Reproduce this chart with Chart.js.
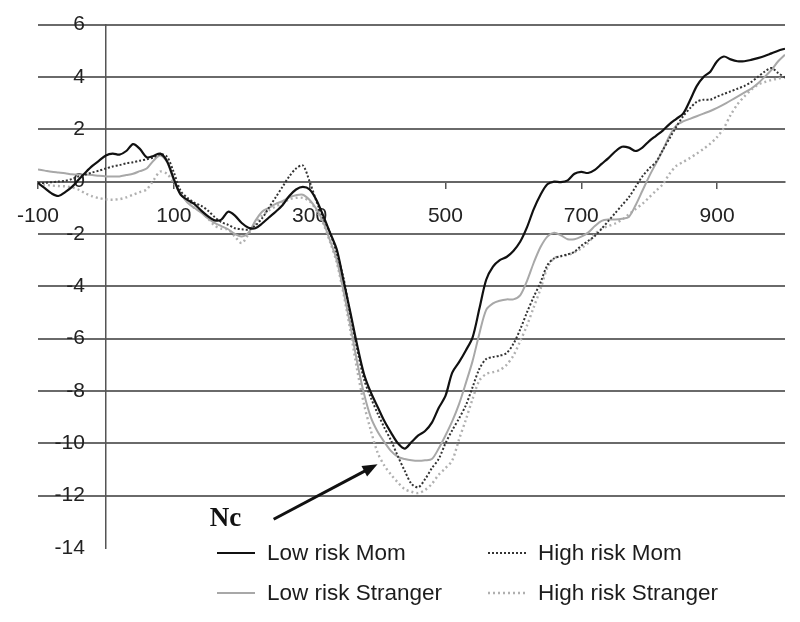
<!DOCTYPE html>
<html>
<head>
<meta charset="utf-8">
<script src="https://cdn.jsdelivr.net/npm/chart.js@4.4.1/dist/chart.umd.min.js"></script>
<style>
  html, body { margin: 0; padding: 0; background: #fff; }
</style>
</head>
<body>
<canvas id="erpChart" width="800" height="622"></canvas>
<script>
/* --------------- Time points (ms) --------------------- */
const times = [
  -100, -90, -80, -70, -60, -50, -40, -30, -20, -10,
  0, 10, 20, 30, 40, 50, 60, 70, 80, 90,
  100, 110, 120, 130, 140, 150, 160, 170, 180, 190,
  200, 210, 220, 230, 240, 250, 260, 270, 280, 290,
  300, 310, 320, 330, 340, 350, 360, 370, 380, 390,
  400, 410, 420, 430, 440, 450, 460, 470, 480, 490,
  500, 510, 520, 530, 540, 550, 560, 570, 580, 590,
  600, 610, 620, 630, 640, 650, 660, 670, 680, 690,
  700, 710, 720, 730, 740, 750, 760, 770, 780, 790,
  800, 810, 820, 830, 840, 850, 860, 870, 880, 890,
  900, 910, 920, 930, 940, 950, 960, 970, 980, 990,
  1000
];

/* --------------- Amplitudes (uV) --------------------- */
const lowMom = [
  -0.05, -0.25, -0.45, -0.55, -0.4, -0.2, 0.08, 0.35, 0.6, 0.8,
  1.0, 1.07, 1.03, 1.17, 1.43, 1.25, 0.93, 0.98, 1.07, 0.78,
  0.1, -0.5, -0.7, -0.85, -1.1, -1.32, -1.48, -1.45, -1.15, -1.3,
  -1.58, -1.76, -1.78, -1.6, -1.37, -1.15, -0.9, -0.55, -0.3, -0.2,
  -0.3, -0.7, -1.3, -1.95, -2.6, -3.8, -5.0, -6.25, -7.35, -8.05,
  -8.6, -9.15, -9.6, -10.0, -10.2, -9.95, -9.7, -9.53, -9.21, -8.65,
  -8.19, -7.3, -6.9, -6.45, -5.95, -4.85, -3.75, -3.25, -3.0, -2.88,
  -2.65, -2.3, -1.75, -1.05, -0.5, -0.1, 0.0, -0.02, 0.05, 0.3,
  0.37, 0.33, 0.45, 0.68, 0.9, 1.15, 1.33, 1.3, 1.17, 1.3,
  1.55, 1.75, 1.95, 2.2, 2.4, 2.6, 3.1, 3.65, 4.0, 4.2,
  4.6, 4.78, 4.67, 4.6, 4.6, 4.65, 4.72, 4.8, 4.9, 5.0,
  5.08
];
const highMom = [
  -0.05, -0.05, -0.02, 0.0, 0.03, 0.1, 0.2, 0.27, 0.35, 0.42,
  0.5, 0.58, 0.63, 0.7, 0.74, 0.8, 0.85, 0.92, 1.05, 0.95,
  0.35, -0.35, -0.62, -0.8, -0.92, -1.1, -1.35, -1.55, -1.65, -1.78,
  -1.82, -1.83, -1.68, -1.4, -1.0, -0.6, -0.2, 0.2, 0.5, 0.62,
  0.0, -0.75, -1.4, -1.95, -2.75, -3.7, -5.1, -6.4, -7.55, -8.25,
  -8.85, -9.4, -9.9, -10.5, -11.05, -11.55, -11.68, -11.37, -10.95, -10.6,
  -10.0, -9.5, -9.05, -8.55, -7.85, -7.15, -6.78, -6.7, -6.65, -6.55,
  -6.2, -5.65, -5.0, -4.4, -3.85, -3.2, -2.93, -2.85, -2.78, -2.68,
  -2.45, -2.27, -2.08, -1.8, -1.5, -1.2, -0.9, -0.6, -0.2, 0.2,
  0.5, 0.75, 1.2, 1.65, 2.1, 2.5, 2.8, 3.05, 3.13, 3.13,
  3.25, 3.35, 3.45, 3.55, 3.65, 3.8, 4.0, 4.2, 4.34, 4.15,
  3.98
];
const lowStranger = [
  0.46, 0.42, 0.38, 0.35, 0.32, 0.28, 0.27, 0.27, 0.25, 0.22,
  0.2, 0.2, 0.2, 0.25, 0.3, 0.4, 0.5, 0.8, 1.0, 0.75,
  0.05, -0.45, -0.8, -1.0, -1.18, -1.4, -1.58, -1.7, -1.82, -2.0,
  -2.1, -1.95, -1.5, -1.15, -1.0, -0.85, -0.75, -0.6, -0.52, -0.5,
  -0.7, -1.05, -1.55, -2.25, -3.0, -4.2, -5.5, -6.9, -8.1, -9.0,
  -9.55, -9.95, -10.3, -10.52, -10.6, -10.65, -10.67, -10.65, -10.6, -10.2,
  -9.7, -9.15, -8.5, -7.7, -6.85, -5.8, -4.9, -4.65, -4.55, -4.5,
  -4.5, -4.35, -3.8, -3.1, -2.5, -2.1, -1.95, -2.05, -2.2, -2.2,
  -2.1, -1.95, -1.7, -1.5, -1.45, -1.45, -1.42, -1.35, -0.9, -0.35,
  0.2, 0.7, 1.2, 1.75, 2.15, 2.3, 2.4, 2.5, 2.6, 2.7,
  2.82, 2.95, 3.1, 3.25, 3.4, 3.55, 3.75, 4.0, 4.27, 4.6,
  4.85
];
const highStranger = [
  -0.1, -0.12, -0.15, -0.17, -0.18, -0.22, -0.31, -0.45, -0.56, -0.63,
  -0.68, -0.69, -0.67, -0.6, -0.5, -0.4, -0.3, 0.05, 0.38, 0.3,
  -0.05, -0.45, -0.75, -1.0, -1.15, -1.4, -1.68, -1.8, -1.83, -2.1,
  -2.35, -2.0, -1.6, -1.3, -1.1, -0.95, -0.82, -0.68, -0.62, -0.62,
  -0.75, -1.1, -1.6, -2.3, -3.1, -4.3, -5.7, -7.2, -8.5, -9.5,
  -10.35, -10.85, -11.2, -11.5, -11.75, -11.85, -11.9, -11.78, -11.55, -11.2,
  -10.95, -10.65, -9.85, -9.1, -8.3, -7.6, -7.35, -7.28, -7.2, -7.0,
  -6.65, -6.1, -5.5, -4.8, -4.1, -3.3, -2.93, -2.85, -2.8, -2.7,
  -2.55, -2.35, -2.0, -1.8, -1.7, -1.6, -1.45, -1.25, -1.05, -0.85,
  -0.6, -0.35, -0.1, 0.3, 0.6, 0.75, 0.9, 1.07, 1.25, 1.45,
  1.7, 2.05, 2.55, 2.95, 3.25, 3.5, 3.7, 3.8, 3.88, 3.94,
  3.98
];

const seriesLabels = ["Low risk Mom", "High risk Mom", "Low risk Stranger", "High risk Stranger"];
const xTickValues = [-100, 100, 300, 500, 700, 900];

/* --------------- Nc annotation (data coords) --------------------- */
const ncText = "Nc";
const ncTextAt = [176, -12.9];
const ncArrowFrom = [247, -12.9];
const ncArrowTo = [400, -10.8];

const toPoints = (vals) => times.map((t, i) => ({ x: t, y: vals[i] }));

const tickFont = { family: "'Liberation Sans', Arial, sans-serif", size: 21 };

/* --------------- y labels sit left of the x=0 axis, not on it --------------------- */
const yLabelGap = {
  id: "yLabelGap",
  beforeDraw(chart) {
    chart.scales.y.getLabelItems().forEach((item) => {
      if (!item.moved) {
        item.options.translation[0] -= 21;
        item.moved = true;
      }
    });
  },
};

/* --------------- Nc arrow --------------------- */
const ncPlugin = {
  id: "ncArrow",
  afterDatasetsDraw(chart) {
    const { ctx, scales } = chart;
    const x0 = scales.x.getPixelForValue(ncArrowFrom[0]);
    const y0 = scales.y.getPixelForValue(ncArrowFrom[1]);
    const x1 = scales.x.getPixelForValue(ncArrowTo[0]);
    const y1 = scales.y.getPixelForValue(ncArrowTo[1]);
    const ang = Math.atan2(y1 - y0, x1 - x0);
    const head = 15;
    ctx.save();
    ctx.strokeStyle = "#111";
    ctx.fillStyle = "#111";
    ctx.lineWidth = 3;
    ctx.beginPath();
    ctx.moveTo(x0, y0);
    ctx.lineTo(x1 - Math.cos(ang) * head * 0.8, y1 - Math.sin(ang) * head * 0.8);
    ctx.stroke();
    ctx.beginPath();
    ctx.moveTo(x1, y1);
    ctx.lineTo(x1 - head * Math.cos(ang) + 6 * Math.sin(ang), y1 - head * Math.sin(ang) - 6 * Math.cos(ang));
    ctx.lineTo(x1 - head * Math.cos(ang) - 6 * Math.sin(ang), y1 - head * Math.sin(ang) + 6 * Math.cos(ang));
    ctx.closePath();
    ctx.fill();
    ctx.font = "bold 27px 'Liberation Serif', 'Times New Roman', serif";
    ctx.textAlign = "center";
    ctx.textBaseline = "middle";
    ctx.fillText(ncText, scales.x.getPixelForValue(ncTextAt[0]), scales.y.getPixelForValue(ncTextAt[1]));
    ctx.restore();
  },
};

/* --------------- 2x2 legend under the plot --------------------- */
const gridLegend = {
  id: "gridLegend",
  afterDraw(chart) {
    const { ctx } = chart;
    const cols = [217, 488];
    const rows = [553, 593];
    ctx.save();
    ctx.font = "22.5px 'Liberation Sans', Arial, sans-serif";
    ctx.fillStyle = "#1c1c1c";
    ctx.textBaseline = "middle";
    chart.data.datasets.forEach((ds, i) => {
      const cx = cols[i % 2];
      const cy = rows[Math.floor(i / 2)];
      ctx.strokeStyle = ds.borderColor;
      ctx.lineWidth = ds.borderWidth;
      ctx.setLineDash(ds.borderDash || []);
      ctx.beginPath();
      ctx.moveTo(cx, cy);
      ctx.lineTo(cx + 38, cy);
      ctx.stroke();
      ctx.setLineDash([]);
      ctx.fillText(ds.label, cx + 50, cy + 1);
    });
    ctx.restore();
  },
};

new Chart(document.getElementById("erpChart"), {
  type: "line",
  plugins: [yLabelGap, ncPlugin, gridLegend],
  data: {
    datasets: [
      { label: seriesLabels[0], data: toPoints(lowMom), borderColor: "#111", borderWidth: 2.2 },
      { label: seriesLabels[1], data: toPoints(highMom), borderColor: "#333", borderWidth: 2, borderDash: [2, 2] },
      { label: seriesLabels[2], data: toPoints(lowStranger), borderColor: "#a8a8a8", borderWidth: 2 },
      { label: seriesLabels[3], data: toPoints(highStranger), borderColor: "#b0b0b0", borderWidth: 2.4, borderDash: [2, 3] },
    ],
  },
  options: {
    responsive: false,
    animation: false,
    layout: { padding: { left: 38, right: 15, top: 24, bottom: 74 } },
    elements: { point: { radius: 0 }, line: { tension: 0.3 } },
    plugins: { legend: { display: false }, tooltip: { enabled: false } },
    scales: {
      x: {
        type: "linear",
        min: -100,
        max: 1000,
        position: { y: 0 },
        afterFit: (s) => { s.height = 0; },
        afterBuildTicks: (s) => { s.ticks = xTickValues.map((v) => ({ value: v })); },
        grid: { drawOnChartArea: false, drawTicks: true, tickLength: 6, color: "#555", lineWidth: 1.5 },
        border: { display: true, color: "#666", width: 2 },
        ticks: { padding: 16, font: tickFont, color: "#222", maxRotation: 0, autoSkip: false },
      },
      y: {
        min: -14,
        max: 6,
        position: { x: 0 },
        afterFit: (s) => { s.width = 0; },
        grid: {
          color: (c) => (c.tick && c.tick.value === -14 ? "rgba(0,0,0,0)" : "#6a6a6a"),
          lineWidth: 2,
          tickLength: 10,
        },
        border: { display: true, color: "#555", width: 1.5 },
        ticks: { stepSize: 2, padding: 12, font: tickFont, color: "#222" },
      },
    },
  },
});
</script>
</body>
</html>
